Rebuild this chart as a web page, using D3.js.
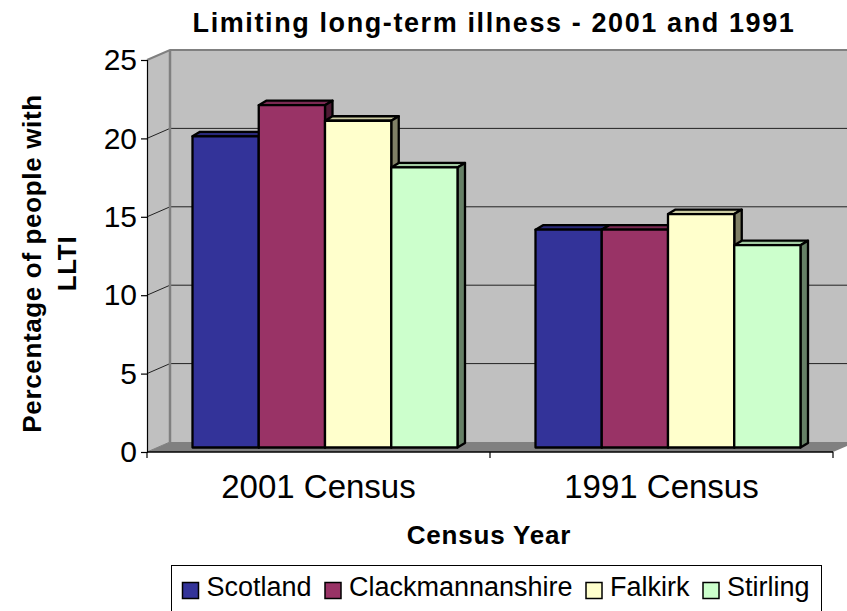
<!DOCTYPE html>
<html>
<head>
<meta charset="utf-8">
<script src="https://cdn.jsdelivr.net/npm/d3@7"></script>
<style>
  html, body { margin: 0; padding: 0; background: #fff; overflow: hidden; }
  text { font-family: "Liberation Sans", Arial, sans-serif; fill: #000; }
</style>
</head>
<body>
<div id="chart"></div>
<script>
// data
const censuses = ["2001 Census", "1991 Census"];
const areas = ["Scotland", "Clackmannanshire", "Falkirk", "Stirling"];
const areaColors = ["#333399", "#993366", "#FFFFCC", "#CCFFCC"];
const scotland = [20, 14];
const clackmannanshire = [22, 14];
const falkirk = [21, 15];
const stirling = [18, 13];
const yTicks = [0, 5, 10, 15, 20, 25];
const seriesValues = [scotland, clackmannanshire, falkirk, stirling];

const W = 847, H = 611;
const left = 147, right = 833, top0 = 60, bottom = 452;
// depth of the fake 3d box
const depthX = 23, depthY = -10;

const svg = d3.select("#chart").append("svg")
  .attr("width", W)
  .attr("height", H)
  .style("display", "block");

const x0 = d3.scaleBand().domain(censuses).range([left, right]);
const x1 = d3.scaleBand().domain(areas).range([45.5, 310.5]);
const y = d3.scaleLinear().domain([0, 25]).range([bottom, top0]);
// bars stand mid-way back in the box, so they get their own slightly shorter scale
const yBar = d3.scaleLinear().domain([0, 25]).range([447.5, 58.5]);

// walls and floor
svg.append("polygon")
  .attr("points", [[left, top0], [left + depthX, top0 + depthY], [left + depthX, bottom + depthY], [left, bottom]].join(" "))
  .attr("fill", "#C0C0C0");
svg.append("rect")
  .attr("x", left + depthX).attr("y", top0 + depthY)
  .attr("width", W).attr("height", bottom - top0)
  .attr("fill", "#C0C0C0");
svg.append("polygon")
  .attr("points", [[left, bottom], [left + depthX, bottom + depthY], [right + depthX, bottom + depthY], [right, bottom]].join(" "))
  .attr("fill", "#808080");

// gridlines on side wall and back wall
yTicks.filter(d => d > 0 && d < 25).forEach(d => {
  svg.append("polyline")
    .attr("points", [[left, y(d)], [left + depthX, y(d) + depthY], [W, y(d) + depthY]].join(" "))
    .attr("fill", "none")
    .attr("stroke", "#222")
    .attr("stroke-width", 1);
});

// wall edges
svg.append("polyline")
  .attr("points", [[left, top0], [left + depthX, top0 + depthY], [W, top0 + depthY]].join(" "))
  .attr("fill", "none").attr("stroke", "#808080").attr("stroke-width", 2);
svg.append("line")
  .attr("x1", left + depthX).attr("x2", left + depthX)
  .attr("y1", top0 + depthY).attr("y2", bottom + depthY)
  .attr("stroke", "#808080").attr("stroke-width", 2.5);
svg.append("line")
  .attr("x1", left).attr("x2", left + depthX)
  .attr("y1", bottom).attr("y2", bottom + depthY)
  .attr("stroke", "#808080").attr("stroke-width", 1);

// bars, left to right so the next bar hides the lower part of the side face
const shade = (c, k) => {
  const r = d3.rgb(c);
  return d3.rgb(r.r * k, r.g * k, r.b * k).formatHex();
};
const barDepthX = 7.5, barDepthY = -4.5;

censuses.forEach((census, i) => {
  const g = svg.append("g").attr("transform", `translate(${x0(census)},0)`);
  areas.forEach((area, j) => {
    const color = areaColors[j];
    const xl = x1(area), xr = xl + x1.bandwidth();
    const yt = yBar(seriesValues[j][i]), yb = yBar(0);
    const bar = g.append("g")
      .attr("stroke", "#000").attr("stroke-width", 2.3).attr("stroke-linejoin", "round");
    bar.append("polygon")
      .attr("points", [[xl, yt], [xl + barDepthX, yt + barDepthY], [xr + barDepthX, yt + barDepthY], [xr, yt]].join(" "))
      .attr("fill", shade(color, 0.8));
    bar.append("polygon")
      .attr("points", [[xr, yt], [xr + barDepthX, yt + barDepthY], [xr + barDepthX, yb + barDepthY], [xr, yb]].join(" "))
      .attr("fill", shade(color, 0.5));
    bar.append("rect")
      .attr("x", xl).attr("y", yt)
      .attr("width", xr - xl).attr("height", yb - yt)
      .attr("fill", color);
  });
});

// axes
const yAxis = svg.append("g")
  .attr("transform", `translate(${left},0)`)
  .call(d3.axisLeft(y).tickValues(yTicks).tickSize(6).tickPadding(4));
yAxis.selectAll("text").attr("font-size", 30).style("font-family", '"Liberation Sans", Arial, sans-serif');
yAxis.selectAll("path, line").attr("stroke", "#000").attr("stroke-width", 1.2);

const xAxis = svg.append("g")
  .attr("transform", `translate(0,${bottom})`);
xAxis.append("line")
  .attr("x1", left).attr("x2", right)
  .attr("stroke", "#000").attr("stroke-width", 1.5);
d3.range(censuses.length + 1).forEach(i => {
  const tx = left + i * x0.step();
  xAxis.append("line")
    .attr("x1", tx).attr("x2", tx).attr("y1", 0).attr("y2", 6)
    .attr("stroke", "#000").attr("stroke-width", 1.2);
});
censuses.forEach(c => {
  xAxis.append("text")
    .attr("x", x0(c) + x0.bandwidth() / 2)
    .attr("y", 46)
    .attr("text-anchor", "middle")
    .attr("font-size", 33)
    .text(c);
});

// titles
svg.append("text")
  .attr("x", 494).attr("y", 32)
  .attr("text-anchor", "middle")
  .attr("font-size", 27).attr("font-weight", "bold")
  .attr("letter-spacing", 1.6)
  .text("Limiting long-term illness - 2001 and 1991");
svg.append("text")
  .attr("x", 489).attr("y", 544)
  .attr("text-anchor", "middle")
  .attr("font-size", 26).attr("font-weight", "bold")
  .attr("letter-spacing", 0.8)
  .text("Census Year");
const yTitle = svg.append("text")
  .attr("transform", "translate(41,263.5) rotate(-90)")
  .attr("text-anchor", "middle")
  .attr("font-size", 26).attr("font-weight", "bold")
  .attr("letter-spacing", 0.65);
yTitle.append("tspan").attr("x", 0).attr("dy", 0).text("Percentage of people with");
yTitle.append("tspan").attr("x", 0).attr("dy", 35).text("LLTI");

// legend, box runs off the bottom of the picture
const legend = svg.append("g");
legend.append("rect")
  .attr("x", 171.5).attr("y", 565.5)
  .attr("width", 650).attr("height", 60)
  .attr("fill", "#fff").attr("stroke", "#000").attr("stroke-width", 1);
const legendX = [182.5, 325, 586, 703];
areas.forEach((area, j) => {
  legend.append("rect")
    .attr("x", legendX[j]).attr("y", 582.5)
    .attr("width", 16).attr("height", 16)
    .attr("fill", areaColors[j]).attr("stroke", "#000").attr("stroke-width", 1.5);
  legend.append("text")
    .attr("x", legendX[j] + 24).attr("y", 596)
    .attr("font-size", 27)
    .text(area);
});
</script>
</body>
</html>
